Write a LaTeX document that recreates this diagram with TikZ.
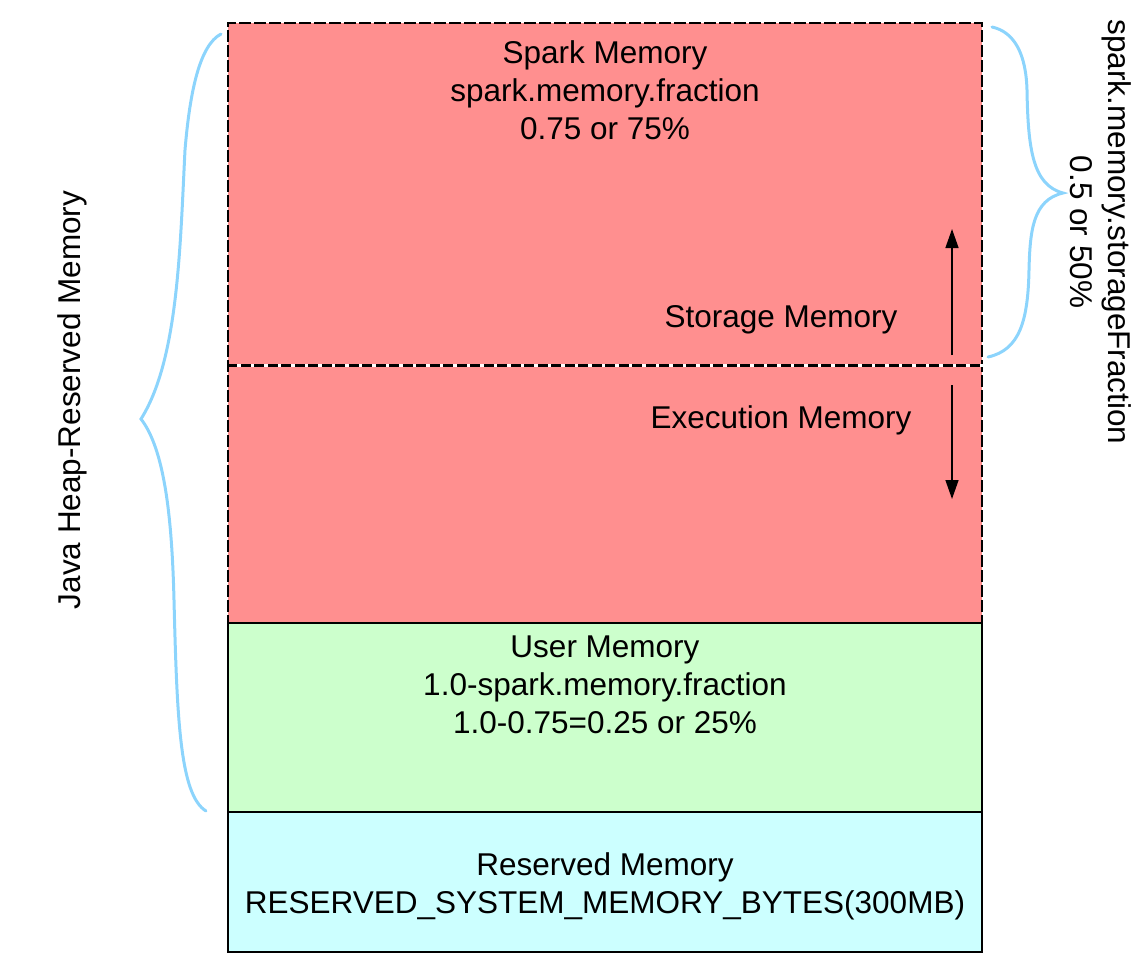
\documentclass[tikz,border=0pt]{standalone}
\usepackage{fontspec}
\setmainfont{Liberation Sans}
\usepackage{xcolor}
\usetikzlibrary{positioning,arrows.meta}

\definecolor{sparkred}{RGB}{255,143,143}
\definecolor{usergreen}{RGB}{204,255,204}
\definecolor{reservedcyan}{RGB}{204,255,255}
\definecolor{bracecol}{RGB}{140,212,252}

\begin{document}
\begin{tikzpicture}[
    x=1pt, y=1pt,
    region/.style={draw, rectangle, minimum width=754pt, inner sep=0pt, line width=2pt},
    txt/.style={align=center, inner sep=0pt, font=\fontsize{31.5}{38}\selectfont},
    brace/.style={draw=bracecol, line width=3pt, line cap=round},
    flow/.style={-{Triangle[length=19pt,width=13pt]}, line width=1.4pt}
]
    \useasboundingbox (0,0) rectangle (1146,-972);

    % Regions
    \node[region, fill=sparkred, dash pattern=on 12pt off 3pt, line width=1.5pt, minimum height=600pt] (spark) at (605,-323) {};
    \node[region, fill=usergreen, minimum height=189pt] (user) at (605,-717.5) {};
    \node[region, fill=reservedcyan, minimum height=140pt] (reserved) at (605,-882) {};
    \draw[white, line width=3pt] (spark.west |- 0,-365) -- (spark.east |- 0,-365);
    \draw[black, dash pattern=on 10pt off 3.5pt, line width=3pt] (spark.west |- 0,-365) -- (spark.east |- 0,-365);

    % Texts
    \node[txt] (sparktxt) at (605,-90) {Spark Memory\\spark.memory.fraction\\0.75 or 75\%};
    \node[txt] (storage) at (781,-320) {Storage Memory};
    \node[txt] (execution) at (781,-420) {Execution Memory};
    \node[txt] (usertxt) at (605,-685) {User Memory\\1.0-spark.memory.fraction\\1.0-0.75=0.25 or 25\%};
    \node[txt] (reservedtxt) at (605,-886) {Reserved Memory\\RESERVED\_SYSTEM\_MEMORY\_BYTES(300MB)};
    \node[txt, rotate=90] (heap) at (72,-400) {Java Heap-Reserved Memory};
    \node[txt, rotate=-90] (fraction) at (1101,-232) {spark.memory.storageFraction\\0.5 or 50\%};

    % Braces
    \draw[brace] (221,-34) .. controls (200,-45) and (190,-90) .. (185,-150)
        .. controls (180,-250) and (178,-360) .. (141,-419)
        .. controls (165,-450) and (172,-520) .. (174,-600)
        .. controls (177,-720) and (180,-795) .. (206,-811);
    \draw[brace] (992,-27) .. controls (1015,-32) and (1026,-55) .. (1027,-90)
        .. controls (1028,-150) and (1033,-185) .. (1063,-193)
        .. controls (1033,-200) and (1030,-230) .. (1029,-270)
        .. controls (1028,-320) and (1020,-350) .. (988,-357);

    % Arrows
    \coordinate (upstart) at (952,-355);
    \coordinate (upend) at (952,-229);
    \coordinate (downstart) at (952,-385);
    \coordinate (downend) at (952,-499);
    \draw[flow] (upstart) -- (upend);
    \draw[flow] (downstart) -- (downend);
\end{tikzpicture}
\end{document}
